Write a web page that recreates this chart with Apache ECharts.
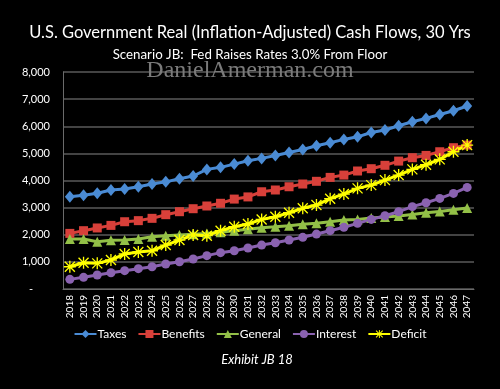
<!DOCTYPE html>
<html><head><meta charset="utf-8">
<script src="https://cdn.jsdelivr.net/npm/echarts@6/dist/echarts.min.js"></script>
<style>html,body{margin:0;padding:0;background:#000;}#c{width:500px;height:389px;}</style>
</head><body><div id="c"></div>
<script>
const years = ['2018','2019','2020','2021','2022','2023','2024','2025','2026','2027','2028','2029','2030','2031','2032','2033','2034','2035','2036','2037','2038','2039','2040','2041','2042','2043','2044','2045','2046','2047'];
const taxes = [3400,3460,3530,3650,3685,3770,3870,3950,4065,4165,4410,4485,4605,4730,4815,4925,5035,5145,5280,5390,5515,5610,5770,5860,6020,6165,6290,6435,6570,6745];
const benefits = [2050,2150,2250,2345,2480,2520,2605,2740,2850,2960,3060,3160,3315,3395,3585,3650,3770,3870,3970,4115,4200,4350,4435,4560,4715,4840,4925,5060,5210,5305];
const general = [1840,1840,1745,1795,1805,1840,1930,1965,1990,2015,2050,2090,2150,2205,2260,2295,2335,2385,2420,2480,2540,2565,2615,2650,2690,2750,2810,2860,2920,2985];
const interest = [355,430,515,600,675,750,820,920,1005,1105,1230,1340,1410,1510,1620,1705,1805,1905,2025,2150,2275,2420,2565,2700,2850,3035,3180,3340,3525,3745];
const deficit = [820,970,945,1070,1290,1365,1410,1620,1805,1990,1965,2150,2295,2395,2565,2665,2810,2975,3095,3330,3500,3710,3830,4015,4200,4410,4580,4780,5060,5305];
const yTicks = [0,1000,2000,3000,4000,5000,6000,7000,8000];

const FONT = 'Lato';
const star = 'path://M-1,-9 L1,-9 L1,9 L-1,9 Z M-6.8,-8.2 L8.2,6.8 L6.8,8.2 L-8.2,-6.8 Z M6.8,-8.2 L8.2,-6.8 L-6.8,8.2 L-8.2,6.8 Z M-9,-1 L9,-1 L9,1 L-9,1 Z';

function mk(name, data, color, symbol, size) {
  return {
    name, type: 'line', data,
    symbol, symbolSize: size, symbolKeepAspect: true,
    lineStyle: { color, width: 3 },
    itemStyle: { color, borderColor: color, borderWidth: 0 },
    emphasis: { disabled: true },
    animation: false
  };
}

const chart = echarts.init(document.getElementById('c'));
chart.setOption({
  backgroundColor: '#000',
  animation: false,
  title: {
    text: 'U.S. Government Real (Inflation-Adjusted) Cash Flows, 30 Yrs',
    subtext: 'Scenario JB:  Fed Raises Rates 3.0% From Floor',
    left: 'center', top: 19, itemGap: 7,
    textStyle: { color: '#fff', fontFamily: FONT, fontSize: 16.5, fontWeight: 'normal' },
    subtextStyle: { color: '#fff', fontFamily: FONT, fontSize: 13.3 }
  },
  legend: {
    bottom: 44, left: 'center', itemWidth: 22, itemHeight: 10, itemGap: 11,
    textStyle: { color: '#fff', fontFamily: FONT, fontSize: 12, padding: [0, 0, 0, -4] },
    data: ['Taxes', 'Benefits', 'General', 'Interest', 'Deficit']
  },
  grid: { left: 63, right: 26, top: 72, bottom: 100 },
  xAxis: {
    type: 'category', data: years, boundaryGap: true,
    axisLine: { lineStyle: { color: '#6a6a6a', width: 1 } },
    axisTick: { show: false },
    axisLabel: { rotate: 90, color: '#fff', fontFamily: FONT, fontSize: 10, interval: 0, margin: 6 }
  },
  yAxis: {
    type: 'value', min: yTicks[0], max: yTicks[yTicks.length - 1], interval: 1000,
    axisLine: { show: true, lineStyle: { color: '#6a6a6a', width: 1 } },
    axisTick: { show: false },
    splitLine: { lineStyle: { color: '#5a5a5a', width: 1.5 } },
    axisLabel: {
      color: '#fff', fontFamily: FONT, fontSize: 11, margin: 13,
      formatter: v => v === 0 ? '-      ' : v.toLocaleString('en-US')
    }
  },
  graphic: [
    { type: 'text', left: 'center', top: 59, z: 100,
      style: { text: 'DanielAmerman.com', fill: '#7a7a7a', font: '24px "Liberation Serif", serif' } },
    { type: 'text', x: 257, y: 360, z: 100,
      style: { text: 'Exhibit JB 18', fill: '#fff', font: 'italic 13px Lato', align: 'center', verticalAlign: 'middle' } }
  ],
  series: [
    mk('Taxes', taxes, '#4a8bd4', 'diamond', [10, 12]),
    mk('Benefits', benefits, '#d8403a', 'rect', 9),
    mk('General', general, '#93c047', 'triangle', 10),
    mk('Interest', interest, '#8a62b0', 'circle', 9),
    mk('Deficit', deficit, '#ffff00', star, 12)
  ]
});
</script></body></html>
